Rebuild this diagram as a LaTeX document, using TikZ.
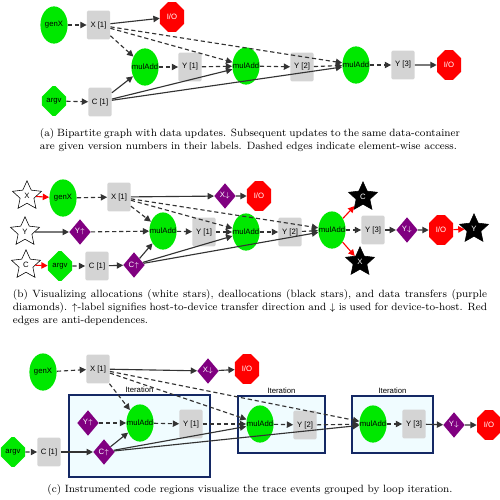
\documentclass[tikz,border=0pt]{standalone}
\usepackage{fontspec}
\newfontfamily\nodefont{Liberation Sans}
\usetikzlibrary{shapes.geometric, shapes.misc, arrows.meta, positioning}
\definecolor{taskgreen}{RGB}{0, 232, 0}
\definecolor{datagray}{RGB}{212, 212, 212}
\definecolor{edgegray}{RGB}{51, 51, 51}
\definecolor{xferpurple}{RGB}{128, 0, 128}
\definecolor{iterblue}{RGB}{20, 40, 100}
\definecolor{iterfill}{RGB}{240, 252, 255}
\newcommand{\nlabel}[1]{\makebox[0pt]{#1}}
\tikzset{
  lbl/.style={font=\nodefont\fontsize{5.5}{6}\selectfont},
  task/.style={ellipse, fill=taskgreen, lbl, inner sep=0pt,
               minimum width=0.68cm, minimum height=0.93cm},
  databox/.style={rectangle, rounded corners=1pt, fill=datagray, lbl,
                  minimum width=0.58cm, minimum height=0.72cm, inner sep=0pt},
  io/.style={chamfered rectangle, chamfered rectangle xsep=0.17cm,
             chamfered rectangle ysep=0.2cm, fill=red, text=white, lbl,
             minimum width=0.6cm, minimum height=0.74cm, inner sep=0pt},
  srcnode/.style={io, fill=taskgreen, text=black},
  xfer/.style={diamond, fill=xferpurple, text=white, lbl, inner sep=0pt,
               minimum width=0.54cm, minimum height=0.64cm},
  allocstar/.style={star, star points=5, star point ratio=2.1, draw=black,
                    fill=white, lbl, inner sep=0pt, minimum size=0.76cm},
  freestar/.style={allocstar, fill=black, text=white},
  dep/.style={-{Triangle[length=4.5pt,width=4.5pt]}, draw=edgegray, line width=0.8pt},
  elem/.style={dep, dash pattern=on 3pt off 2pt},
  anti/.style={dep, draw=red},
  iterbox/.style={rectangle, draw=iterblue, fill=iterfill, line width=1pt,
                  label={[lbl, inner sep=1pt]above:Iteration}},
  subcap/.style={font=\fontsize{7.5}{9.2}\selectfont, align=justify, inner sep=0pt},
}
\begin{document}
\begin{tikzpicture}[x=0.025cm, y=-0.025cm]
  \useasboundingbox (0,0) rectangle (500,500);

  % (a) bipartite graph
  \node[task] (a_genx) at (54,25) {\nlabel{genX}};
  \node[databox] (a_x1) at (98.5,25) {X [1]};
  \node[io] (a_io1) at (172,17) {I/O};
  \node[task] (a_mul1) at (145,67) {\nlabel{mulAdd}};
  \node[databox] (a_y1) at (190,67) {Y [1]};
  \node[task] (a_mul2) at (246,66) {\nlabel{mulAdd}};
  \node[srcnode] (a_argv) at (54,101) {argv};
  \node[databox] (a_c1) at (100,102) {C [1]};
  \node[databox] (a_y2) at (302,67) {Y [2]};
  \node[task] (a_mul3) at (356,65) {\nlabel{mulAdd}};
  \node[databox] (a_y3) at (403,65) {Y [3]};
  \node[io] (a_io2) at (449,65) {I/O};

  \foreach \a/\b in {a_genx/a_x1, a_x1/a_mul1, a_x1/a_mul2, a_x1/a_mul3,
                     a_mul1/a_y1, a_y1/a_mul2, a_argv/a_c1, a_mul2/a_y2,
                     a_y2/a_mul3, a_mul3/a_y3}
    \draw[elem] (\a) -- (\b);
  \foreach \a/\b in {a_x1/a_io1, a_c1/a_mul1, a_c1/a_mul2, a_c1/a_mul3, a_y3/a_io2}
    \draw[dep] (\a) -- (\b);

  \node[subcap, text width=10.5cm] (cap_a) at (250,140.5)
    {(a) Bipartite graph with data updates. Subsequent updates to the same data-container\linebreak
     are given version numbers in their labels. Dashed edges indicate element-wise access.};

  % (b) allocations and transfers
  \node[allocstar] (b_sx) at (27,196) {X};
  \node[task] (b_genx) at (63,198) {\nlabel{genX}};
  \node[databox] (b_x1) at (119,197) {X [1]};
  \node[xfer] (b_xd) at (225,196) {X$\downarrow$};
  \node[io] (b_io1) at (259,196) {I/O};
  \node[allocstar] (b_sy) at (25,232) {Y};
  \node[xfer] (b_yu) at (80,232) {Y$\uparrow$};
  \node[task] (b_mul1) at (163,231) {\nlabel{mulAdd}};
  \node[databox] (b_y1) at (204,232) {Y [1]};
  \node[task] (b_mul2) at (246,232) {\nlabel{mulAdd}};
  \node[allocstar] (b_sc) at (26,265) {C};
  \node[srcnode] (b_argv) at (60,266) {argv};
  \node[databox] (b_c1) at (97,266) {C [1]};
  \node[xfer] (b_cu) at (134,265) {C$\uparrow$};
  \node[databox] (b_y2) at (290,232) {Y [2]};
  \node[task] (b_mul3) at (332,230) {\nlabel{mulAdd}};
  \node[freestar] (b_dc) at (363,197) {C};
  \node[freestar] (b_dx) at (360,262) {X};
  \node[databox] (b_y3) at (373,230) {Y [3]};
  \node[xfer] (b_yd) at (407,230) {Y$\downarrow$};
  \node[io] (b_io2) at (441,230) {I/O};
  \node[freestar] (b_dy) at (474,229) {Y};

  \foreach \a/\b in {b_sx/b_genx, b_sc/b_argv, b_mul3/b_dc, b_mul3/b_dx, b_io2/b_dy}
    \draw[anti] (\a) -- (\b);
  \foreach \a/\b in {b_genx/b_x1, b_x1/b_mul1, b_x1/b_mul2, b_x1/b_mul3,
                     b_yu/b_mul1, b_mul1/b_y1, b_y1/b_mul2, b_argv/b_c1,
                     b_mul2/b_y2, b_y2/b_mul3, b_mul3/b_y3}
    \draw[elem] (\a) -- (\b);
  \foreach \a/\b in {b_x1/b_xd, b_xd/b_io1, b_sy/b_yu, b_c1/b_cu, b_cu/b_mul1,
                     b_cu/b_mul2, b_cu/b_mul3, b_y3/b_yd, b_yd/b_io2}
    \draw[dep] (\a) -- (\b);

  \node[subcap, text width=11.85cm] (cap_b) at (250,308)
    {(b) Visualizing allocations (white stars), deallocations (black stars), and data transfers (purple\linebreak
     diamonds). $\uparrow$-label signifies host-to-device transfer direction and $\downarrow$ is used for device-to-host. Red\linebreak
     edges are anti-dependences.};

  % (c) loop iterations
  \node[iterbox, minimum width=3.525cm, minimum height=2.05cm] (it1) at (139.5,436) {};
  \node[iterbox, minimum width=2.175cm, minimum height=1.425cm] (it2) at (281.5,424.5) {};
  \node[iterbox, minimum width=2.025cm, minimum height=1.425cm] (it3) at (392.5,424.5) {};

  \node[task] (c_genx) at (43,372) {\nlabel{genX}};
  \node[databox] (c_x1) at (98,369) {X [1]};
  \node[xfer] (c_xd) at (208,371) {X$\downarrow$};
  \node[io] (c_io1) at (247,369) {I/O};
  \node[xfer] (c_yu) at (88,423) {Y$\uparrow$};
  \node[task] (c_mul1) at (140,423) {\nlabel{mulAdd}};
  \node[databox] (c_y1) at (191,424) {Y [1]};
  \node[srcnode] (c_argv) at (13,452) {argv};
  \node[databox] (c_c1) at (49,452) {C [1]};
  \node[xfer] (c_cu) at (104,452) {C$\uparrow$};
  \node[task] (c_mul2) at (260,424) {\nlabel{mulAdd}};
  \node[databox] (c_y2) at (305,425) {Y [2]};
  \node[task] (c_mul3) at (373,424) {\nlabel{mulAdd}};
  \node[databox] (c_y3) at (414,424) {Y [3]};
  \node[xfer] (c_yd) at (454,425) {Y$\downarrow$};
  \node[io] (c_io2) at (489,425) {I/O};

  \foreach \a/\b in {c_genx/c_x1, c_x1/c_mul1, c_x1/c_mul2, c_x1/c_mul3,
                     c_yu/c_mul1, c_mul1/c_y1, c_y1/c_mul2, c_argv/c_c1,
                     c_mul2/c_y2, c_y2/c_mul3, c_mul3/c_y3}
    \draw[elem] (\a) -- (\b);
  \foreach \a/\b in {c_x1/c_xd, c_xd/c_io1, c_c1/c_cu, c_cu/c_mul1, c_cu/c_mul2,
                     c_cu/c_mul3, c_y3/c_yd, c_yd/c_io2}
    \draw[dep] (\a) -- (\b);

  \node[subcap, align=center] (cap_c) at (250,490)
    {(c) Instrumented code regions visualize the trace events grouped by loop iteration.};
\end{tikzpicture}
\end{document}
